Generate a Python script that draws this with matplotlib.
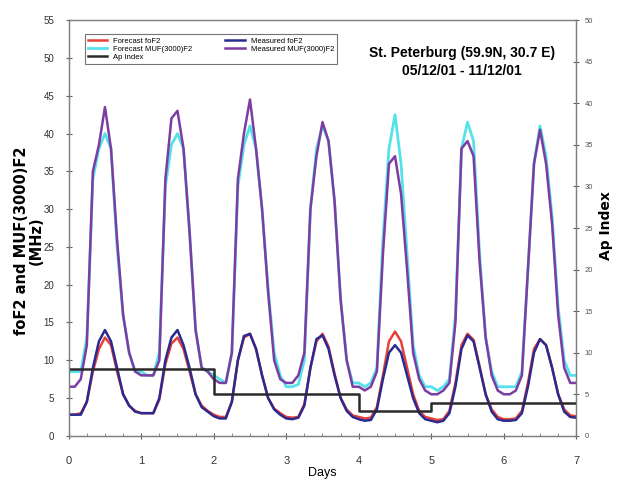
import numpy as np
import matplotlib
matplotlib.use("Agg")
import matplotlib.pyplot as plt

plt.rcParams['font.family'] = ['Liberation Sans', 'DejaVu Sans']

# 2-hourly samples, days 0..7
fo_forecast = [
    2.8, 2.8, 3.0, 4.5, 8.5, 11.5, 13.0, 12.0, 8.5, 5.5, 4.0, 3.3,
    3.0, 3.0, 3.0, 4.8, 9.5, 12.2, 13.0, 11.5, 8.5, 5.5, 4.0, 3.3,
    2.8, 2.5, 2.5, 4.5, 10.0, 13.0, 13.5, 11.5, 8.0, 5.0, 3.6, 3.0,
    2.5, 2.4, 2.5, 4.2, 9.0, 12.5, 13.5, 11.8, 8.2, 5.0, 3.5, 2.7,
    2.5, 2.3, 2.4, 3.8, 8.0, 12.5, 13.8, 12.5, 9.0, 5.5, 3.3, 2.5,
    2.3, 2.1, 2.2, 3.3, 7.0, 12.0, 13.5, 12.7, 9.2, 5.5, 3.5, 2.5,
    2.2, 2.2, 2.3, 3.3, 7.0, 11.5, 12.8, 12.0, 9.0, 5.5, 3.5, 2.7, 2.6]
muf_forecast = [
    8.5, 8.5, 8.5, 13.0, 34.0, 38.0, 40.0, 38.0, 25.0, 16.0, 11.0, 8.5,
    8.5, 8.0, 8.0, 11.0, 33.0, 38.5, 40.0, 38.0, 27.0, 14.0, 9.0, 8.5,
    8.0, 7.5, 7.0, 11.0, 33.0, 38.5, 41.0, 38.0, 30.0, 19.5, 11.0, 8.0,
    6.5, 6.5, 6.8, 10.0, 30.0, 38.0, 41.0, 39.0, 31.0, 18.0, 10.0, 7.0,
    7.0, 6.5, 7.0, 9.0, 26.0, 38.0, 42.5, 36.0, 24.0, 12.0, 8.0, 6.5,
    6.5, 6.0, 6.5, 7.5, 16.0, 38.0, 41.5, 39.0, 24.0, 13.0, 8.5, 6.5,
    6.5, 6.5, 6.5, 8.5, 22.0, 36.0, 41.0, 37.0, 29.0, 17.0, 10.0, 8.0, 8.0]
fo_measured = [
    2.8, 2.8, 2.8, 4.5, 9.0, 12.5, 14.0, 12.5, 9.0, 5.5, 4.0, 3.2,
    3.0, 3.0, 3.0, 5.0, 10.0, 13.0, 14.0, 12.0, 9.0, 5.5, 3.8, 3.2,
    2.6, 2.3, 2.3, 4.5, 10.0, 13.2, 13.5, 11.5, 8.0, 5.0, 3.5, 2.8,
    2.3, 2.2, 2.4, 4.0, 9.0, 12.8, 13.3, 11.5, 8.0, 5.0, 3.3, 2.5,
    2.2, 2.0, 2.1, 3.5, 7.5, 11.0, 12.0, 11.0, 8.0, 5.0, 3.0, 2.2,
    2.0, 1.8, 2.0, 3.0, 6.5, 11.5, 13.3, 12.5, 9.0, 5.5, 3.2, 2.2,
    2.0, 2.0, 2.1, 3.0, 6.5, 11.0, 12.8, 12.0, 9.0, 5.5, 3.2, 2.5, 2.4]
muf_measured = [
    6.5, 6.5, 7.5, 12.0, 35.0, 38.5, 43.5, 38.0, 26.0, 16.0, 11.0, 8.5,
    8.0, 8.0, 8.0, 10.0, 34.0, 42.0, 43.0, 38.0, 27.0, 14.0, 9.0, 8.5,
    7.5, 7.0, 7.0, 11.0, 34.0, 40.0, 44.5, 38.0, 30.0, 19.0, 10.0, 7.5,
    7.0, 7.0, 8.0, 11.0, 30.0, 37.0, 41.5, 39.0, 31.0, 18.0, 10.0, 6.5,
    6.5, 6.0, 6.5, 8.5, 24.0, 36.0, 37.0, 32.0, 22.0, 11.0, 7.5, 6.0,
    5.5, 5.5, 6.0, 7.0, 15.0, 38.0, 39.0, 37.0, 23.0, 13.0, 8.0, 6.0,
    5.5, 5.5, 6.0, 8.0, 22.0, 36.0, 40.5, 36.0, 28.0, 16.0, 9.0, 7.0, 7.0]

ap_days = [0, 1, 2, 3, 4, 5, 6, 7]
ap_values = [8, 8, 5, 5, 3, 4, 4, 4]

labels = ["Forecast foF2", "Forecast MUF(3000)F2", "Measured foF2",
          "Measured MUF(3000)F2", "Ap Index"]
colors = ["#e8403a", "#55e2ea", "#2b2a90", "#7c3ca2", "#2a2a2a"]

t = np.arange(len(fo_forecast)) / 12.0

fig = plt.figure(figsize=(6.19, 4.8), dpi=100)
ax = fig.add_axes([0.111, 0.092, 0.820, 0.866])
ax2 = ax.twinx()

l1, = ax.plot(t, fo_forecast, color=colors[0], lw=1.8, label=labels[0])
l2, = ax.plot(t, muf_forecast, color=colors[1], lw=2.0, label=labels[1])
l3, = ax.plot(t, fo_measured, color=colors[2], lw=1.8, label=labels[2])
l4, = ax.plot(t, muf_measured, color=colors[3], lw=1.8, label=labels[3])
l5, = ax2.plot(ap_days, ap_values, color=colors[4], lw=1.8,
               drawstyle='steps-post', label=labels[4])

ax.set_xlim(0, 7)
ax.set_ylim(0, 55)
ax2.set_ylim(0, 50)
ax.set_xticks(range(0, 8))
ax.set_xticks(np.arange(0, 7.01, 0.25), minor=True)
ax.set_yticks(range(0, 56, 5))
ax2.set_yticks(range(0, 51, 5))

for a in (ax, ax2):
    for s in a.spines.values():
        s.set_color('#808080')
        s.set_linewidth(0.9)
ax.tick_params(axis='y', which='major', labelsize=7, color='#606060',
               direction='inout', length=5, pad=8, labelcolor='#333333')
ax.tick_params(axis='x', which='major', labelsize=8, color='#606060',
               direction='inout', length=5, pad=12, labelcolor='#333333')
ax.tick_params(axis='x', which='minor', direction='in', length=2.5, color='#808080')
ax2.tick_params(axis='y', labelsize=5.5, color='#606060', direction='inout',
                length=5, labelcolor='#555555')

ax.set_xlabel("Days", fontsize=9, labelpad=1)
ax.set_ylabel("foF2 and MUF(3000)F2\n(MHz)", fontsize=10.5, fontweight='bold',
              family='DejaVu Sans', linespacing=0.95)
ax.yaxis.label.set_va('center')
ax.yaxis.set_label_coords(-0.078, 0.47)
ax2.set_ylabel("Ap Index", fontsize=10, fontweight='bold', family='DejaVu Sans')
ax2.yaxis.label.set_va('center')
ax2.yaxis.set_label_coords(1.059, 0.507)

ax.text(0.775, 0.90, "St. Peterburg (59.9N, 30.7 E)\n05/12/01 - 11/12/01",
        transform=ax.transAxes, ha='center', va='center', fontsize=10,
        fontweight='bold', linespacing=1.4)

leg = ax2.legend(handles=[l1, l2, l5, l3, l4], loc='upper left',
                 bbox_to_anchor=(0.025, 0.975), ncol=2, fontsize=5.5,
                 frameon=True, fancybox=False, edgecolor='#505050',
                 handlelength=2.5, columnspacing=4.3, labelspacing=0.1,
                 borderpad=0.4)
leg.get_frame().set_linewidth(0.8)

fig.savefig("out.png", dpi=100)
